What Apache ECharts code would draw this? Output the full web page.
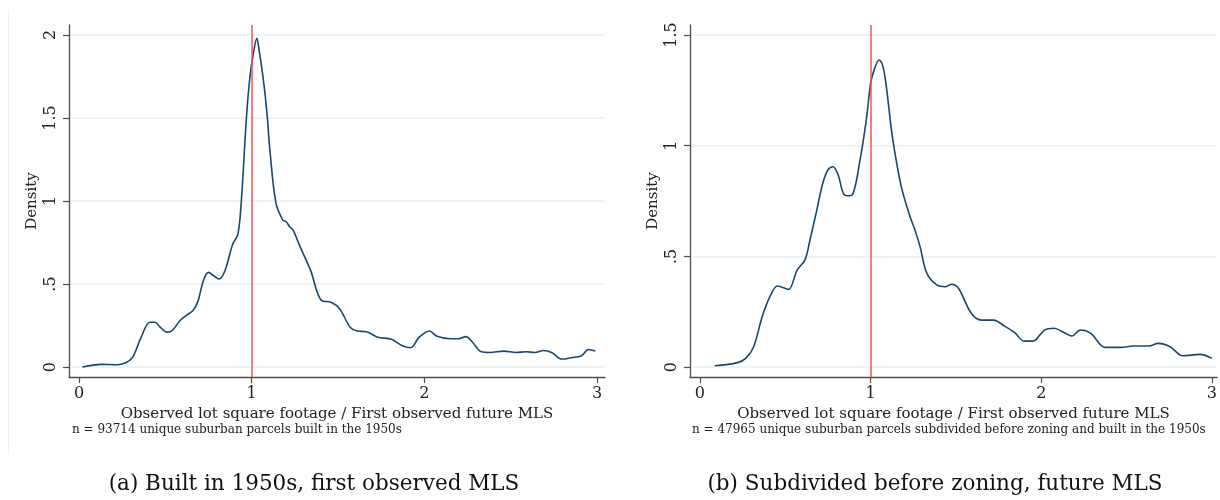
<!DOCTYPE html>
<html>
<head>
<meta charset="utf-8">
<script src="https://cdn.jsdelivr.net/npm/echarts@6/dist/echarts.min.js"></script>
<style>
  html, body { margin: 0; padding: 0; background: #ffffff; }
  #chart { width: 1220px; height: 500px; }
</style>
</head>
<body>
<div id="chart"></div>
<script>
// Kernel density of lot-size ratio, parcels built in the 1950s
const ratioA = [0.02,0.13,0.22,0.27,0.31,0.36,0.41,0.44,0.47,0.51,0.54,0.585,0.62,0.66,0.69,0.72,0.75,0.78,0.81,0.845,0.89,0.92,0.94,0.97,0.99,1.01,1.03,1.04,1.07,1.09,1.105,1.14,1.18,1.20,1.22,1.24,1.28,1.34,1.405,1.46,1.51,1.57,1.61,1.665,1.73,1.81,1.87,1.92,1.97,2.03,2.07,2.15,2.195,2.24,2.28,2.33,2.38,2.46,2.53,2.59,2.64,2.69,2.74,2.795,2.85,2.91,2.95,2.99];
const densityA = [0.0,0.016,0.014,0.026,0.058,0.18,0.27,0.27,0.24,0.21,0.22,0.28,0.31,0.34,0.40,0.52,0.57,0.55,0.53,0.58,0.74,0.80,1.0,1.51,1.75,1.89,1.98,1.93,1.71,1.51,1.31,0.99,0.885,0.875,0.845,0.825,0.725,0.585,0.40,0.39,0.35,0.24,0.217,0.213,0.18,0.167,0.13,0.116,0.18,0.217,0.187,0.17,0.17,0.183,0.148,0.092,0.088,0.096,0.088,0.092,0.088,0.10,0.086,0.048,0.056,0.068,0.106,0.096];

// Kernel density, parcels subdivided before zoning and built in the 1950s
const ratioB = [0.087,0.22,0.27,0.315,0.365,0.41,0.455,0.49,0.52,0.57,0.615,0.645,0.685,0.72,0.75,0.78,0.81,0.84,0.865,0.895,0.935,0.975,1.0,1.02,1.05,1.07,1.09,1.12,1.14,1.18,1.225,1.26,1.29,1.33,1.39,1.44,1.475,1.515,1.59,1.65,1.72,1.785,1.845,1.90,1.95,2.02,2.075,2.135,2.18,2.23,2.29,2.375,2.465,2.54,2.63,2.685,2.755,2.83,2.93,3.0];
const densityB = [0.006,0.02,0.04,0.092,0.227,0.318,0.366,0.358,0.351,0.438,0.483,0.574,0.709,0.83,0.89,0.905,0.868,0.785,0.774,0.78,0.92,1.116,1.28,1.34,1.387,1.365,1.28,1.086,0.98,0.815,0.694,0.619,0.544,0.423,0.37,0.363,0.374,0.356,0.243,0.212,0.212,0.185,0.155,0.117,0.117,0.167,0.175,0.155,0.14,0.167,0.152,0.089,0.089,0.095,0.095,0.107,0.092,0.051,0.057,0.039];

const xTicks = [0, 1, 2, 3];
const yTicksA = [0, 0.5, 1, 1.5, 2];
const yTicksB = [0, 0.5, 1, 1.5];
const refRatio = 1;

const xTitle = 'Observed lot square footage / First observed future MLS';
const noteA = 'n = 93714 unique suburban parcels built in the 1950s';
const noteB = 'n = 47965 unique suburban parcels subdivided before zoning and built in the 1950s';
const captionA = '(a) Built in 1950s, first observed MLS';
const captionB = '(b) Subdivided before zoning, future MLS';

const SERIF = 'DejaVu Serif';
const AXIS_COLOR = '#4d4d4d';
const GRID_COLOR = '#e8f0f2';
const LINE_COLOR = '#1a476f';
const REF_COLOR = '#f25555';

function fmtTick(v) {
  if (v === 0) return '0';
  let s = String(v);
  if (s.startsWith('0.')) s = s.slice(1);
  return s;
}

function zip(xs, ys) { return xs.map((x, i) => [x, ys[i]]); }

function xAxisDef(gridIndex, max) {
  return {
    type: 'value', gridIndex, min: -0.058, max,
    axisLine: { show: true, onZero: false, lineStyle: { color: AXIS_COLOR, width: 1.3 } },
    axisTick: { show: true, length: 6, customValues: xTicks, lineStyle: { color: AXIS_COLOR, width: 1.2 } },
    axisLabel: { customValues: xTicks, formatter: fmtTick, margin: 9, fontFamily: SERIF, fontSize: 16, color: '#222' },
    splitLine: { show: false },
    name: xTitle, nameLocation: 'middle', nameGap: 25,
    nameTextStyle: { fontFamily: SERIF, fontSize: 15, color: '#222' }
  };
}

function yAxisDef(gridIndex, min, max, ticks) {
  return {
    type: 'value', gridIndex, min, max,
    axisLine: { show: true, onZero: false, lineStyle: { color: AXIS_COLOR, width: 1.3 } },
    axisTick: { show: true, length: 6, customValues: ticks, lineStyle: { color: AXIS_COLOR, width: 1.2 } },
    axisLabel: { customValues: ticks, formatter: fmtTick, rotate: 90, margin: 10, fontFamily: SERIF, fontSize: 16, color: '#222' },
    splitLine: { show: true, lineStyle: { color: GRID_COLOR, width: 1.5 } },
    name: 'Density', nameLocation: 'middle', nameRotate: 90, nameGap: 29,
    nameTextStyle: { fontFamily: SERIF, fontSize: 15, color: '#222' }
  };
}

function densitySeries(idx, data) {
  return {
    type: 'line', xAxisIndex: idx, yAxisIndex: idx,
    data, smooth: 0.35, showSymbol: false, symbol: 'none',
    lineStyle: { color: LINE_COLOR, width: 1.6 },
    markLine: {
      silent: true, symbol: 'none', label: { show: false },
      lineStyle: { color: REF_COLOR, width: 1.5, type: 'solid' },
      data: [{ xAxis: refRatio }]
    },
    z: 3
  };
}

const chart = echarts.init(document.getElementById('chart'), null, { renderer: 'canvas' });
chart.setOption({
  backgroundColor: '#ffffff',
  animation: false,
  grid: [
    { left: 69, right: 615, top: 25, bottom: 123 },
    { left: 690, right: 0, top: 25, bottom: 123 }
  ],
  xAxis: [xAxisDef(0, 3.046), xAxisDef(1, 3.03)],
  yAxis: [yAxisDef(0, -0.06, 2.06, yTicksA), yAxisDef(1, -0.045, 1.545, yTicksB)],
  series: [densitySeries(0, zip(ratioA, densityA)), densitySeries(1, zip(ratioB, densityB))],
  graphic: [
    { type: 'line', shape: { x1: 8.5, y1: 10, x2: 8.5, y2: 454 }, style: { stroke: '#f0f0f0', lineWidth: 1 } },
    { type: 'text', left: 72, top: 424, style: { text: noteA, fontFamily: SERIF, fontSize: 12, fill: '#222' } },
    { type: 'text', left: 692, top: 424, style: { text: noteB, fontFamily: SERIF, fontSize: 12, fill: '#222' } },
    { type: 'text', x: 314, y: 484, style: { text: captionA, fontFamily: SERIF, fontSize: 21.5, fill: '#111', align: 'center', verticalAlign: 'middle' } },
    { type: 'text', x: 935, y: 484, style: { text: captionB, fontFamily: SERIF, fontSize: 21.5, fill: '#111', align: 'center', verticalAlign: 'middle' } }
  ]
});
</script>
</body>
</html>
